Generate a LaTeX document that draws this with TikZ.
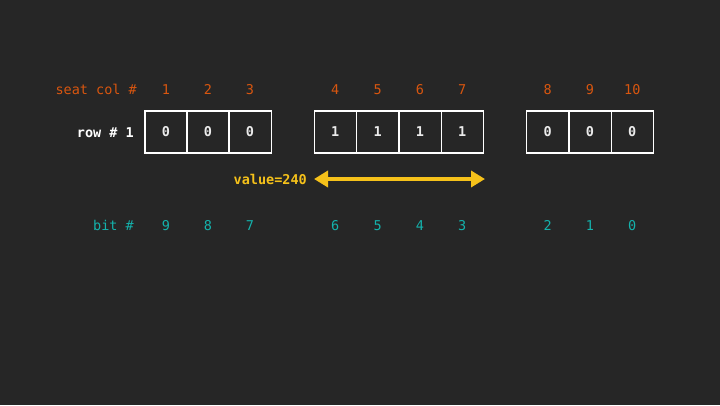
\documentclass[tikz,border=0pt]{standalone}
\usepackage{fontspec}
\setmonofont{DejaVu Sans Mono}
\usetikzlibrary{arrows.meta}
\definecolor{bg}{HTML}{262626}
\definecolor{seatc}{HTML}{D9560F}
\definecolor{bitc}{HTML}{14B2AC}
\definecolor{valc}{HTML}{F5C11A}
\tikzset{
  every node/.style={font=\fontsize{13.5}{15}\selectfont\ttfamily, inner sep=0pt},
  cell/.style={draw=white, line width=1.3pt, minimum width=42.3pt, minimum height=42pt, text=white!92!black, font=\fontsize{13.5}{15}\selectfont\ttfamily\bfseries},
  seat/.style={text=seatc},
  bit/.style={text=bitc},
  lbl/.style={anchor=east},
  valarrow/.style={draw=valc, line width=4.5pt, {Triangle[length=14pt,width=16pt]}-{Triangle[length=14pt,width=16pt]}}
}
\begin{document}
\begin{tikzpicture}[x=1pt,y=-1pt]
\fill[bg] (0,0) rectangle (720,405);
\useasboundingbox (0,0) rectangle (720,405);
% labels
\node[seat,lbl] (seatlbl) at (137,89.5) {seat col \#};
\node[lbl,text=white,font=\fontsize{13.5}{15}\selectfont\ttfamily\bfseries] (rowlbl) at (134,132.5) {row \# 1};
\node[bit,lbl] (bitlbl) at (134,225.5) {bit \#};
% cells
\foreach \x/\v/\s/\b [count=\i] in {166/0/1/9, 208/0/2/8, 250/0/3/7, 335.3/1/4/6, 377.6/1/5/5, 420/1/6/4, 462.3/1/7/3, 547.6/0/8/2, 590/0/9/1, 632.3/0/10/0}{
  \node[cell] (c\i) at (\x,132) {\v};
  \node[seat] (s\i) at (\x,89.5) {\s};
  \node[bit] (b\i) at (\x,225.5) {\b};
}
% value arrow
\coordinate (al) at (314,179);
\coordinate (ar) at (485,179);
\node[anchor=east,text=valc,font=\fontsize{13.5}{15}\selectfont\ttfamily\bfseries] (val) at (307,179.5) {value=240};
\draw[valarrow] (al) -- (ar);
\end{tikzpicture}
\end{document}
